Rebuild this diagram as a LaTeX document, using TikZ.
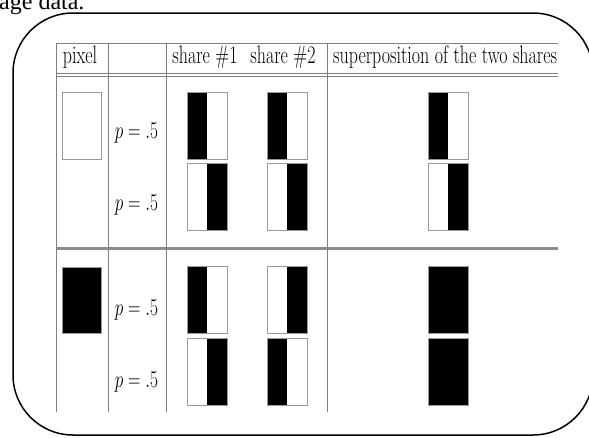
\documentclass[tikz,border=0pt]{standalone}
\usepackage{graphicx}
\usepackage{fontspec}
\newfontfamily\capfont{Liberation Serif}
\newcommand\hdrfont{\fontsize{18}{21}\selectfont}
\newcommand\vstretch[1]{\scalebox{1}[1.4]{#1}}
\begin{document}
\begin{tikzpicture}[x=1pt,y=-1pt,
  cellbox/.style={draw=black!40, line width=0.8pt, minimum width=40pt, minimum height=67pt, inner sep=0pt, outer sep=0pt},
  bleft/.style={cellbox, path picture={\fill[black] (path picture bounding box.south west) rectangle (path picture bounding box.north);}},
  bright/.style={cellbox, path picture={\fill[black] (path picture bounding box.south) rectangle (path picture bounding box.north east);}},
  bfull/.style={cellbox, fill=black},
  bnone/.style={cellbox},
  hdr/.style={font=\hdrfont, anchor=base, inner sep=0pt},
  rule/.style={draw=black!50, line width=1pt},
  frame/.style={draw=black, line width=1.5pt, rounded corners=60pt}
]
\useasboundingbox (0,0) rectangle (589,437);
\begin{scope}
\clip (0,0) rectangle (589,437);
% caption fragment
\node[font=\capfont\fontsize{24}{28}\selectfont, anchor=base west, inner sep=0pt] (cap) at (-1,9) {age data.};
% outer frame
\draw[frame] (13,13) rectangle (593,435);
\end{scope}
% table
\begin{scope}
\clip (50,38) rectangle (558,415);
\draw[rule] (56,43) -- (558,43);
\draw[rule] (56,73) -- (558,73);
\draw[rule] (56,76) -- (558,76);
\draw[draw=black!45, line width=3pt] (56,248) -- (558,248);
\draw[rule] (56,43) -- (56,412);
\draw[rule] (108,43) -- (108,412);
\draw[rule] (166,43) -- (166,412);
\draw[rule] (327,43) -- (327,412);
% headers
\node[hdr] (hpix) at (80,63) {\vstretch{pixel}};
\node[hdr] (hs1) at (205,63) {\vstretch{share \#1}};
\node[hdr] (hs2) at (283,63) {\vstretch{share \#2}};
\node[hdr, anchor=base west] (hsup) at (333,63) {\vstretch{superposition of the two shares}};
% probabilities
\node[hdr] (p1) at (136.5,138) {\vstretch{$p=.5$}};
\node[hdr] (p2) at (136.5,210) {\vstretch{$p=.5$}};
\node[hdr] (p3) at (136.5,315) {\vstretch{$p=.5$}};
\node[hdr] (p4) at (136.5,387) {\vstretch{$p=.5$}};
% pixels
\node[bnone, minimum width=39pt, minimum height=67pt] (pixw) at (81.5,125.5) {};
\node[bfull, minimum width=39pt, minimum height=66pt] (pixb) at (81.5,300) {};
% row 1
\node[bleft] (a1) at (207,125.5) {};
\node[bleft] (b1) at (287,125.5) {};
\node[bleft] (c1) at (448,125.5) {};
% row 2
\node[bright] (a2) at (207,196.5) {};
\node[bright] (b2) at (287,196.5) {};
\node[bright] (c2) at (448,196.5) {};
% row 3
\node[bleft] (a3) at (207,300) {};
\node[bright] (b3) at (287,300) {};
\node[bfull] (c3) at (448,300) {};
% row 4
\node[bright] (a4) at (207,372) {};
\node[bleft] (b4) at (287,372) {};
\node[bfull] (c4) at (448,372) {};
\end{scope}
\end{tikzpicture}
\end{document}
